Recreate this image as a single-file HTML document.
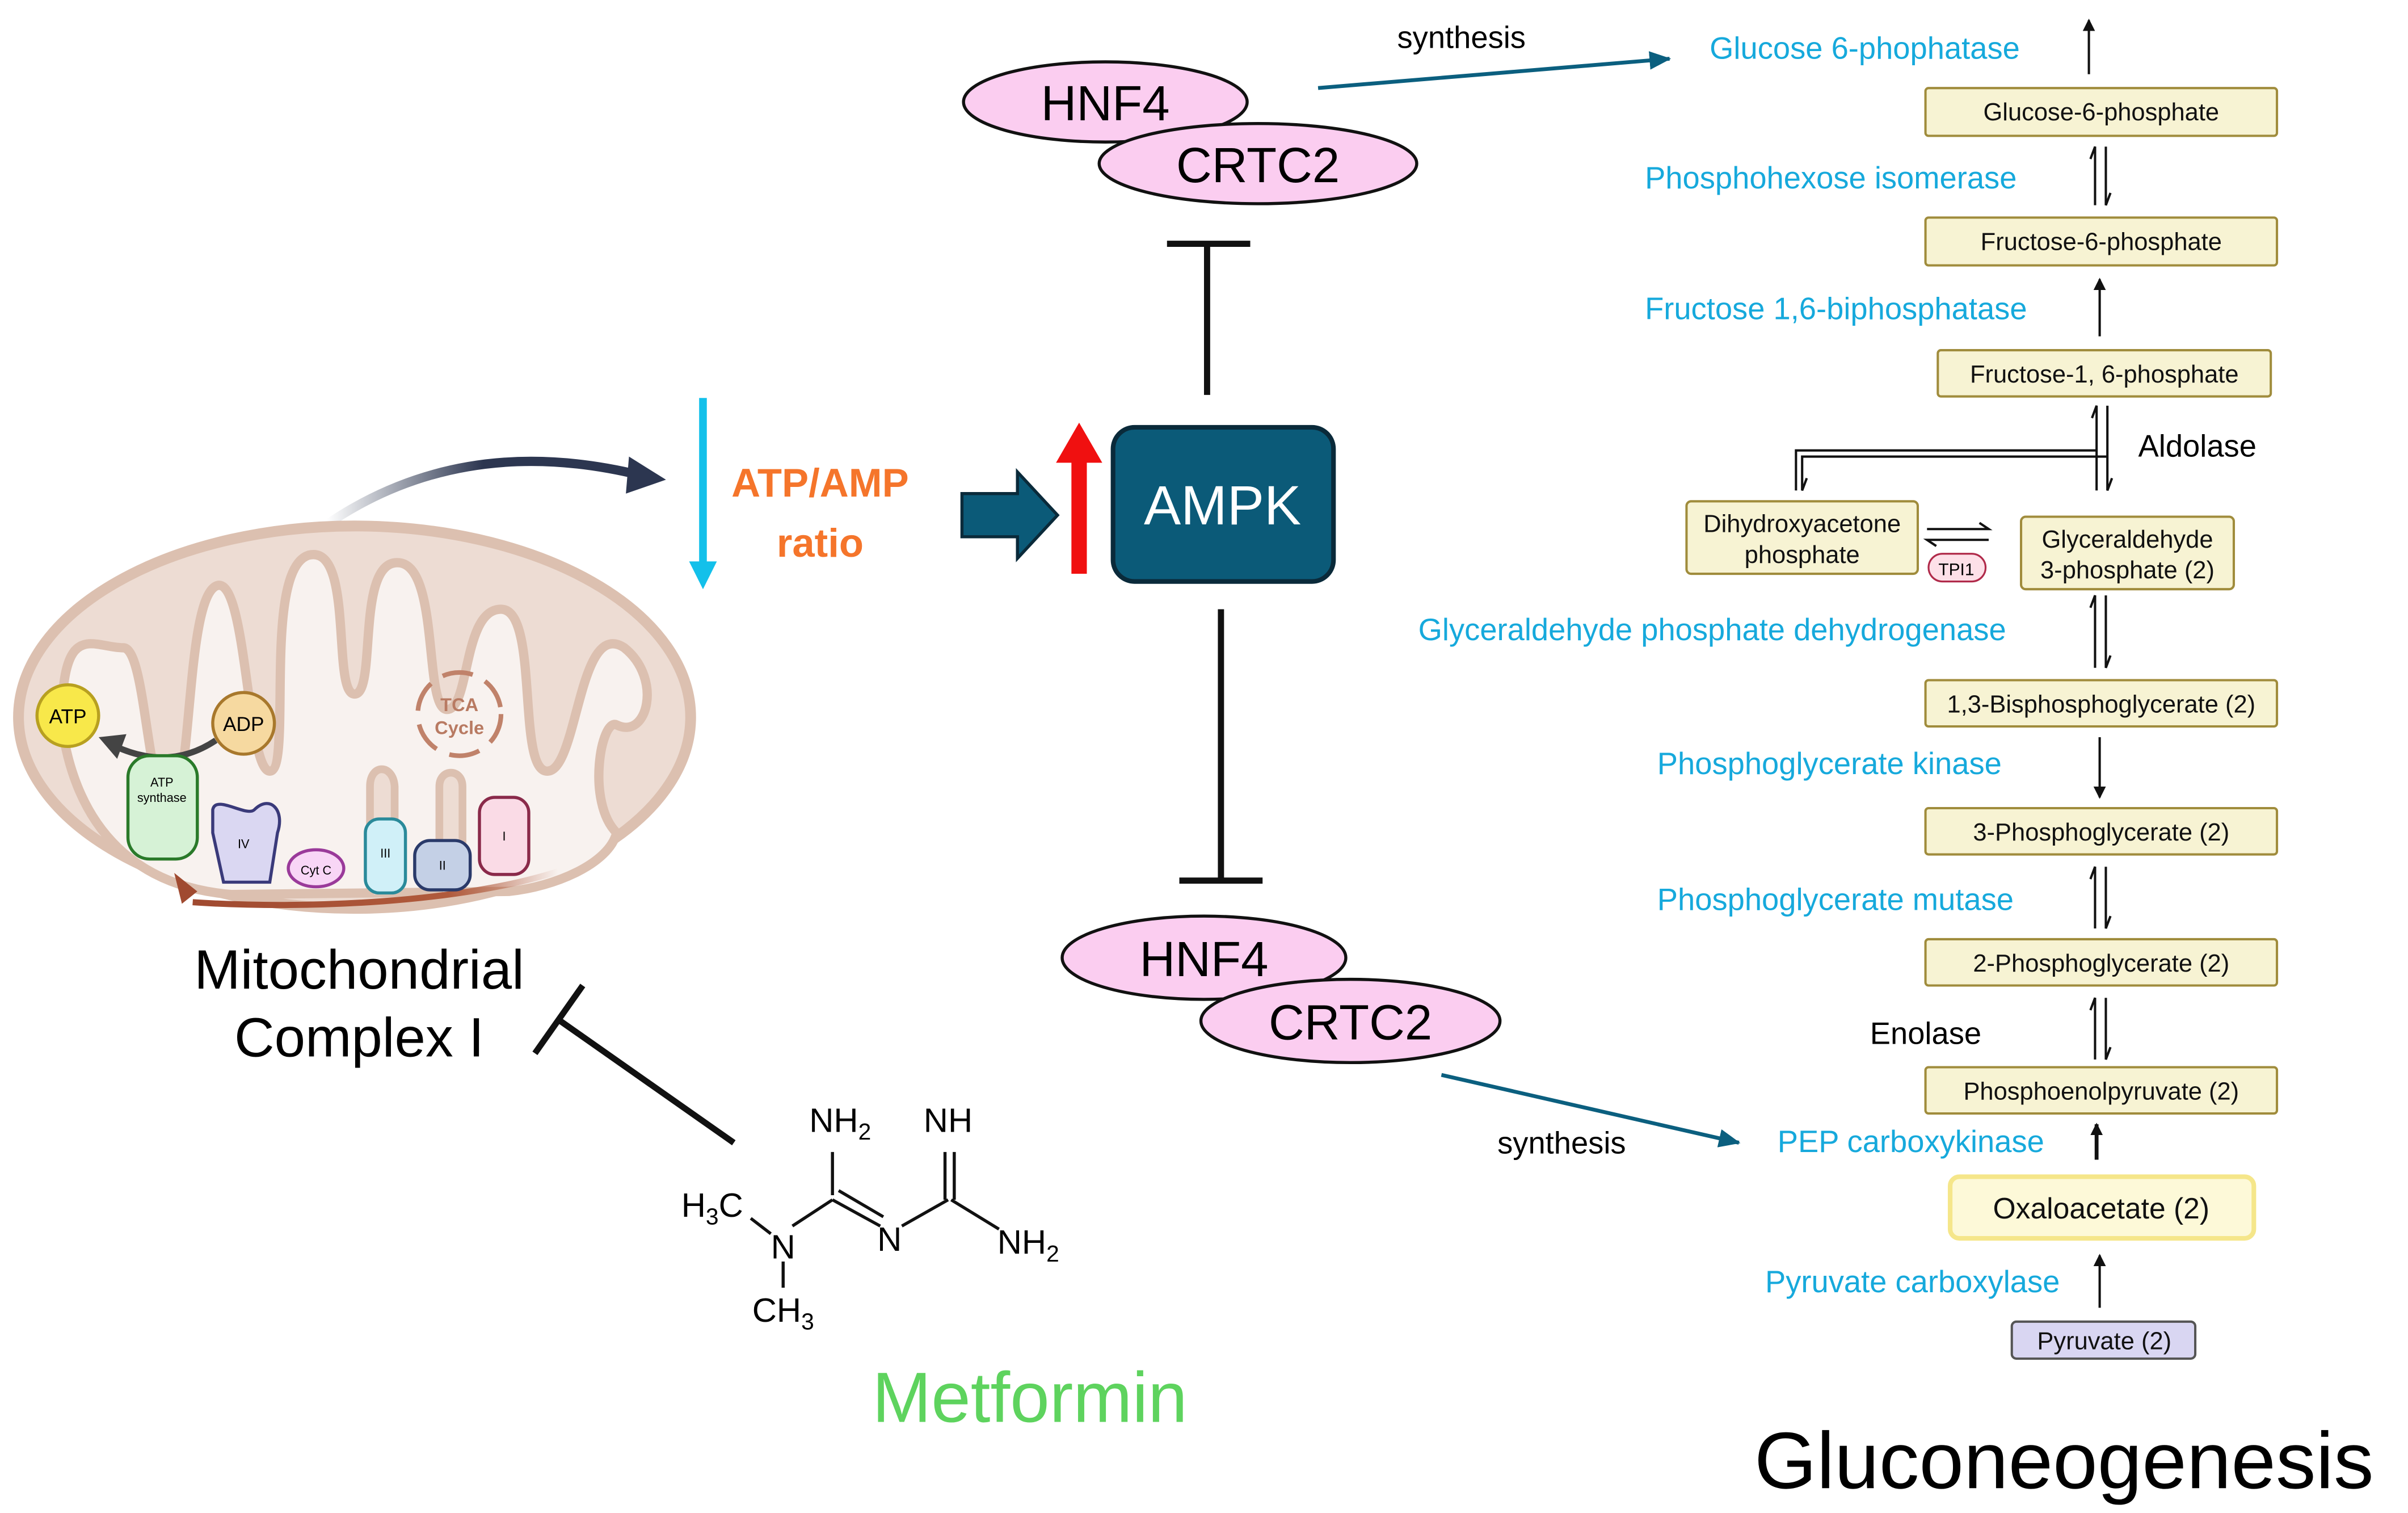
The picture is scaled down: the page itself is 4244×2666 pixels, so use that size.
<!DOCTYPE html>
<html><head><meta charset="utf-8"><style>html,body{margin:0;padding:0;background:#fff}svg{display:block}</style></head>
<body>
<svg xmlns="http://www.w3.org/2000/svg" width="4244" height="2666" viewBox="0 0 1562 981" font-family="Liberation Sans, sans-serif">
<defs>
<marker id="ah" markerWidth="8" markerHeight="8" refX="7" refY="4" orient="auto" markerUnits="userSpaceOnUse"><path d="M0,0 L8,4 L0,8 z" fill="#111"/></marker>
<marker id="aht" markerWidth="14" markerHeight="12" refX="13" refY="6" orient="auto" markerUnits="userSpaceOnUse"><path d="M0,0 L14,6 L0,12 z" fill="#0b5f7f"/></marker>
<linearGradient id="gcurve" x1="0" y1="0" x2="1" y2="0"><stop offset="0" stop-color="#2c3650" stop-opacity="0"/><stop offset="0.5" stop-color="#2c3650"/><stop offset="1" stop-color="#2c3650"/></linearGradient>
<linearGradient id="gbr" x1="1" y1="0" x2="0" y2="0"><stop offset="0" stop-color="#b05a3c" stop-opacity="0"/><stop offset="0.3" stop-color="#b05a3c"/><stop offset="1" stop-color="#a04a30"/></linearGradient>
</defs>
<rect width="1562" height="981" fill="#fff"/>

<!-- Top HNF4/CRTC2 -->
<ellipse cx="717" cy="66" rx="92" ry="26" fill="#fbcdf0" stroke="#111" stroke-width="2"/>
<ellipse cx="816" cy="106" rx="103" ry="26" fill="#fbcdf0" stroke="#111" stroke-width="2"/>
<text x="717" y="78" font-size="32" text-anchor="middle">HNF4</text>
<text x="816" y="118" font-size="32" text-anchor="middle">CRTC2</text>
<text x="948" y="31" font-size="20" text-anchor="middle">synthesis</text>
<line x1="855" y1="57" x2="1083" y2="38" stroke="#0b5f7f" stroke-width="2.5" marker-end="url(#aht)"/>

<!-- T bars -->
<line x1="783" y1="256" x2="783" y2="158" stroke="#111" stroke-width="4"/>
<line x1="757" y1="158" x2="811" y2="158" stroke="#111" stroke-width="4"/>
<line x1="792" y1="395" x2="792" y2="570" stroke="#111" stroke-width="4"/>
<line x1="765" y1="571" x2="819" y2="571" stroke="#111" stroke-width="4"/>

<!-- AMPK -->
<rect x="722" y="277" width="143" height="100" rx="14" fill="#0b5a78" stroke="#0a2a3a" stroke-width="3"/>
<text x="793" y="340" font-size="36" fill="#fff" text-anchor="middle">AMPK</text>
<path d="M695,372 V300 H685 L700,274 L715,300 H705 V372 z" fill="#f01010"/>
<path d="M624,320 H660 V306 L686,334 L660,362 V348 H624 z" fill="#0b5a78" stroke="#0a2a3a" stroke-width="2"/>

<!-- ATP/AMP -->
<line x1="456" y1="258" x2="456" y2="368" stroke="#13c0ea" stroke-width="5"/>
<path d="M447,364 L456,382 L465,364 z" fill="#13c0ea"/>
<text x="532" y="322" font-size="26" font-weight="bold" fill="#f5752b" text-anchor="middle">ATP/AMP</text>
<text x="532" y="361" font-size="26" font-weight="bold" fill="#f5752b" text-anchor="middle">ratio</text>
<path d="M212,340 Q300,280 415,308" fill="none" stroke="url(#gcurve)" stroke-width="6"/>
<path d="M408,296 L432,311 L406,320 z" fill="#2c3650"/>

<!-- Mitochondrion -->
<ellipse cx="230" cy="465" rx="218" ry="124" fill="#eddcd3" stroke="#dcc0b0" stroke-width="7"/>
<path d="M40,470 C40,400 60,420 80,420 C95,420 95,520 110,520 C125,520 120,390 140,380 C160,370 160,500 175,500 C190,500 170,370 200,360 C230,352 215,450 230,450 C245,450 230,360 260,365 C285,370 275,460 290,460 C305,460 300,395 325,395 C350,395 335,500 355,500 C375,500 375,400 405,420 C430,440 420,480 400,470 C390,465 380,520 400,540 C395,560 360,575 330,578 L150,580 C90,575 50,540 40,470 z" fill="#f8f2ef" stroke="#dcc0b0" stroke-width="6"/>
<path d="M240,580 V510 C240,495 255,495 256,510 V580" fill="#eddcd3" stroke="#dcc0b0" stroke-width="5"/>
<path d="M285,580 V510 C285,498 300,498 300,510 V580" fill="#eddcd3" stroke="#dcc0b0" stroke-width="5"/>
<path d="M125,585 C200,590 300,585 362,565" fill="none" stroke="url(#gbr)" stroke-width="4"/>
<path d="M113,566 L128,578 L118,586 z" fill="#a04a30"/>
<!-- TCA -->
<circle cx="298" cy="463" r="27" fill="none" stroke="#c0826a" stroke-width="3" stroke-dasharray="20 9"/>
<text x="298" y="461" font-size="12" font-weight="bold" fill="#b87a62" text-anchor="middle">TCA</text>
<text x="298" y="476" font-size="12" font-weight="bold" fill="#b87a62" text-anchor="middle">Cycle</text>
<!-- ATP/ADP -->
<circle cx="44" cy="464" r="20" fill="#f8e84a" stroke="#b8a020" stroke-width="2"/>
<text x="44" y="469" font-size="13" text-anchor="middle">ATP</text>
<circle cx="158" cy="469" r="20" fill="#f6d9a0" stroke="#a8782c" stroke-width="2"/>
<text x="158" y="474" font-size="13" text-anchor="middle">ADP</text>
<path d="M140,480 Q110,500 75,484" fill="none" stroke="#444" stroke-width="4"/>
<path d="M64,478 L82,476 L76,492 z" fill="#444"/>
<!-- complexes -->
<rect x="83" y="490" width="45" height="67" rx="14" fill="#d6f2d6" stroke="#2a7a2a" stroke-width="2"/>
<text x="105" y="510" font-size="8" text-anchor="middle">ATP</text>
<text x="105" y="520" font-size="8" text-anchor="middle">synthase</text>
<path d="M138,525 C140,515 160,530 165,525 C175,515 185,525 180,540 L175,572 H145 L138,540 z" fill="#dad7f2" stroke="#3a3a7a" stroke-width="2"/>
<text x="158" y="550" font-size="8" text-anchor="middle">IV</text>
<ellipse cx="205" cy="563" rx="18" ry="12" fill="#f8d6f6" stroke="#9a3a9a" stroke-width="2"/>
<text x="205" y="567" font-size="8" text-anchor="middle">Cyt C</text>
<rect x="237" y="531" width="26" height="48" rx="9" fill="#d0f0f8" stroke="#2a8a9a" stroke-width="2"/>
<text x="250" y="556" font-size="8" text-anchor="middle">III</text>
<rect x="269" y="545" width="36" height="32" rx="10" fill="#c4d0e6" stroke="#2a3a6a" stroke-width="2"/>
<text x="287" y="564" font-size="8" text-anchor="middle">II</text>
<rect x="311" y="517" width="32" height="50" rx="10" fill="#fadbe6" stroke="#8a2a4a" stroke-width="2"/>
<text x="327" y="545" font-size="8" text-anchor="middle">I</text>

<text x="233" y="641" font-size="36" text-anchor="middle">Mitochondrial</text>
<text x="233" y="685" font-size="36" text-anchor="middle">Complex I</text>
<line x1="476" y1="741" x2="362" y2="661" stroke="#111" stroke-width="4"/>
<line x1="347" y1="683" x2="378" y2="639" stroke="#111" stroke-width="4"/>

<!-- Metformin -->
<g stroke="#111" stroke-width="2" fill="none">
<line x1="540" y1="747" x2="540" y2="775"/>
<line x1="540" y1="778" x2="514" y2="795"/>
<line x1="540" y1="778" x2="571" y2="795"/>
<line x1="544" y1="772" x2="573" y2="789"/>
<line x1="585" y1="795" x2="615" y2="778"/>
<line x1="613" y1="747" x2="613" y2="778"/>
<line x1="619" y1="747" x2="619" y2="778"/>
<line x1="617" y1="778" x2="648" y2="797"/>
<line x1="500" y1="800" x2="487" y2="790"/>
<line x1="508" y1="818" x2="508" y2="835"/>
</g>
<text x="545" y="734" font-size="22" text-anchor="middle">NH<tspan font-size="15" dy="5">2</tspan></text>
<text x="615" y="734" font-size="22" text-anchor="middle">NH</text>
<text x="462" y="789" font-size="22" text-anchor="middle">H<tspan font-size="15" dy="5">3</tspan><tspan dy="-5">C</tspan></text>
<text x="508" y="816" font-size="22" text-anchor="middle">N</text>
<text x="577" y="811" font-size="22" text-anchor="middle">N</text>
<text x="667" y="813" font-size="22" text-anchor="middle">NH<tspan font-size="15" dy="5">2</tspan></text>
<text x="508" y="857" font-size="22" text-anchor="middle">CH<tspan font-size="15" dy="5">3</tspan></text>
<text x="668" y="922" font-size="46" fill="#5ed35e" text-anchor="middle">Metformin</text>

<!-- Bottom HNF4/CRTC2 -->
<ellipse cx="781" cy="621" rx="92" ry="27" fill="#fbcdf0" stroke="#111" stroke-width="2"/>
<ellipse cx="876" cy="662" rx="97" ry="27" fill="#fbcdf0" stroke="#111" stroke-width="2"/>
<text x="781" y="633" font-size="32" text-anchor="middle">HNF4</text>
<text x="876" y="674" font-size="32" text-anchor="middle">CRTC2</text>
<line x1="935" y1="697" x2="1128" y2="741" stroke="#0b5f7f" stroke-width="2.5" marker-end="url(#aht)"/>
<text x="1013" y="748" font-size="20" text-anchor="middle">synthesis</text>

<!-- Pathway -->
<g font-size="20" fill="#16a9dc">
<text x="1109" y="38">Glucose 6-phophatase</text>
<text x="1067" y="122">Phosphohexose isomerase</text>
<text x="1067" y="207">Fructose 1,6-biphosphatase</text>
<text x="920" y="415">Glyceraldehyde phosphate dehydrogenase</text>
<text x="1075" y="502">Phosphoglycerate kinase</text>
<text x="1075" y="590">Phosphoglycerate mutase</text>
<text x="1153" y="747">PEP carboxykinase</text>
<text x="1145" y="838">Pyruvate carboxylase</text>
</g>
<text x="1387" y="296" font-size="20">Aldolase</text>
<text x="1213" y="677" font-size="20">Enolase</text>

<g fill="#f7f3d3" stroke="#a08c3c" stroke-width="1.5">
<rect x="1249" y="57" width="228" height="31" rx="2"/>
<rect x="1249" y="141" width="228" height="31" rx="2"/>
<rect x="1257" y="227" width="216" height="30" rx="2"/>
<rect x="1094" y="325" width="150" height="47" rx="3"/>
<rect x="1311" y="335" width="138" height="47" rx="3"/>
<rect x="1249" y="441" width="228" height="30" rx="2"/>
<rect x="1249" y="524" width="228" height="30" rx="2"/>
<rect x="1249" y="609" width="228" height="30" rx="2"/>
<rect x="1249" y="692" width="228" height="30" rx="2"/>
</g>
<rect x="1265" y="763" width="197" height="40" rx="6" fill="#fdf9d8" stroke="#f5e68a" stroke-width="3"/>
<rect x="1305" y="857" width="119" height="24" rx="3" fill="#d9d6f2" stroke="#555" stroke-width="1.5"/>
<g font-size="16" text-anchor="middle" fill="#111">
<text x="1363" y="78">Glucose-6-phosphate</text>
<text x="1363" y="162">Fructose-6-phosphate</text>
<text x="1365" y="248">Fructose-1, 6-phosphate</text>
<text x="1169" y="345">Dihydroxyacetone</text>
<text x="1169" y="365">phosphate</text>
<text x="1380" y="355">Glyceraldehyde</text>
<text x="1380" y="375">3-phosphate (2)</text>
<text x="1363" y="462">1,3-Bisphosphoglycerate (2)</text>
<text x="1363" y="545">3-Phosphoglycerate (2)</text>
<text x="1363" y="630">2-Phosphoglycerate (2)</text>
<text x="1363" y="713">Phosphoenolpyruvate (2)</text>
<text x="1363" y="790" font-size="19">Oxaloacetate (2)</text>
<text x="1365" y="875">Pyruvate (2)</text>
</g>
<rect x="1251" y="359" width="37" height="18" rx="9" fill="#fde0e8" stroke="#b02a4a" stroke-width="1.2"/>
<text x="1269" y="373" font-size="11" text-anchor="middle">TPI1</text>

<!-- arrows -->
<g stroke="#111" stroke-width="1.5" fill="none">
<line x1="1355" y1="48" x2="1355" y2="13" marker-end="url(#ah)"/>
<line x1="1362" y1="182" x2="1362" y2="219" marker-end="url(#ah)" transform="rotate(180 1362 200)"/>
<line x1="1362" y1="478" x2="1362" y2="517" marker-end="url(#ah)"/>
<line x1="1362" y1="848" x2="1362" y2="814" marker-end="url(#ah)"/>
<line x1="1360" y1="752" x2="1360" y2="729" stroke-width="2.5" marker-end="url(#ah)"/>
<!-- equilibrium pairs -->
<path d="M1359,133 V95 l-3,8 M1366,95 V133 l3,-8"/>
<path d="M1359,433 V386 l-3,8 M1366,386 V433 l3,-8"/>
<path d="M1359,602 V562 l-3,8 M1366,562 V602 l3,-8"/>
<path d="M1359,687 V647 l-3,8 M1366,647 V687 l3,-8"/>
<!-- aldolase -->
<path d="M1360,318 V263 l-3,8 M1367,263 V318 l3,-8"/>
<path d="M1360,292 H1165 V318"/>
<path d="M1367,296 H1169 V318 l3,-8"/>
<!-- TPI -->
<path d="M1250,343 H1290 l-6,-4 M1290,350 H1250 l6,4"/>
</g>

<text x="1138" y="965" font-size="52">Gluconeogenesis</text>
</svg>
</body></html>
